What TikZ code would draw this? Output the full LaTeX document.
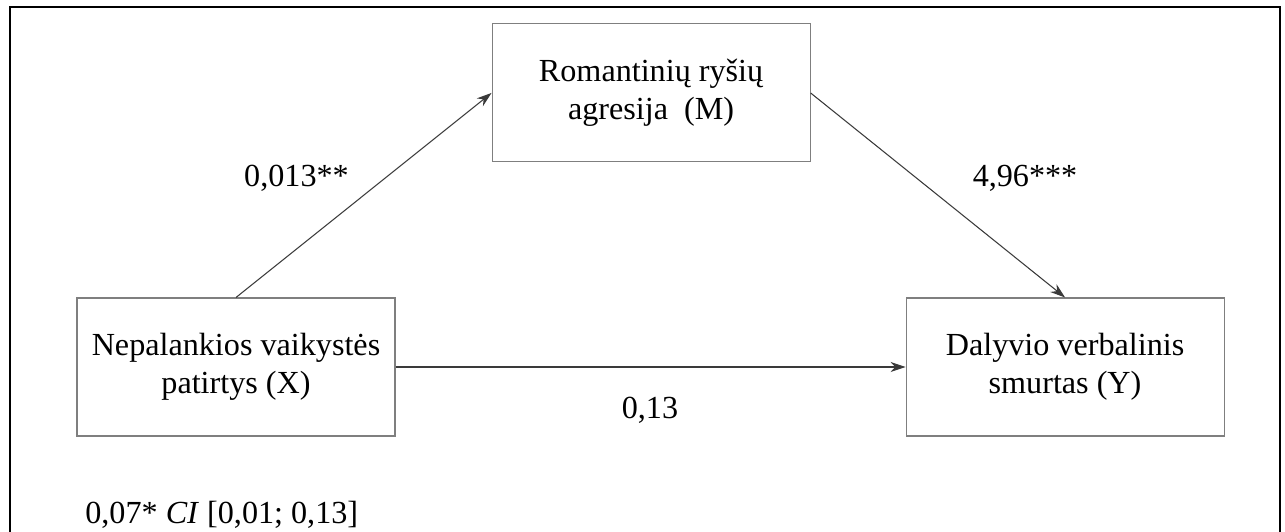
\documentclass[tikz,border=0pt]{standalone}
\usepackage{fontspec}
\setmainfont{Liberation Serif}
\usetikzlibrary{positioning,arrows.meta}
\definecolor{boxgray}{HTML}{7F7F7F}
\definecolor{linegray}{HTML}{3A3A3A}
\tikzstyle{block}=[rectangle,draw=boxgray,line width=0.6pt,align=center,minimum width=6.36cm,minimum height=2.76cm,inner sep=0pt,font=\fontsize{18.3}{21.6}\selectfont]
\tikzstyle{coef}=[anchor=base,inner sep=0pt,font=\fontsize{18.3}{21.6}\selectfont]

\begin{document}
\begin{tikzpicture}[>={Stealth[length=0.3cm,width=0.2cm]}]

\useasboundingbox (0,0) rectangle (25.7,10.62);

% outer frame
\draw [line width=1.1pt] (0.2,-0.5) -- (0.2,10.48) -- (25.6,10.48) -- (25.6,-0.5);

% variables
\node [block] (X) at (4.72,3.28) {Nepalankios vaikystės\\patirtys (X)};
\node [block, right=10.2cm of X] (Y) {Dalyvio verbalinis\\smurtas (Y)};
\node [block, above right=2.7cm and 1.92cm of X] (M) {Romantinių ryšių\\agresija~ (M)};

% paths
\draw [->, draw=linegray, line width=0.6pt] (X.north) -- (M.west);
\draw [->, draw=linegray, line width=0.6pt] (M.east) -- (Y.north);
\draw [->, draw=linegray, line width=0.6pt] (X.east) -- (Y.west);

% coefficients
\node [coef] (a) at (5.93,6.88) {0,013**};
\node [coef] (b) at (20.5,6.88) {4,96***};
\node [coef] (c) at (13.0,2.26) {0,13};
\node [coef, anchor=base west] (ab) at (1.7,0.15) {0,07* \textit{CI} [0,01; 0,13]};

\end{tikzpicture}
\end{document}
